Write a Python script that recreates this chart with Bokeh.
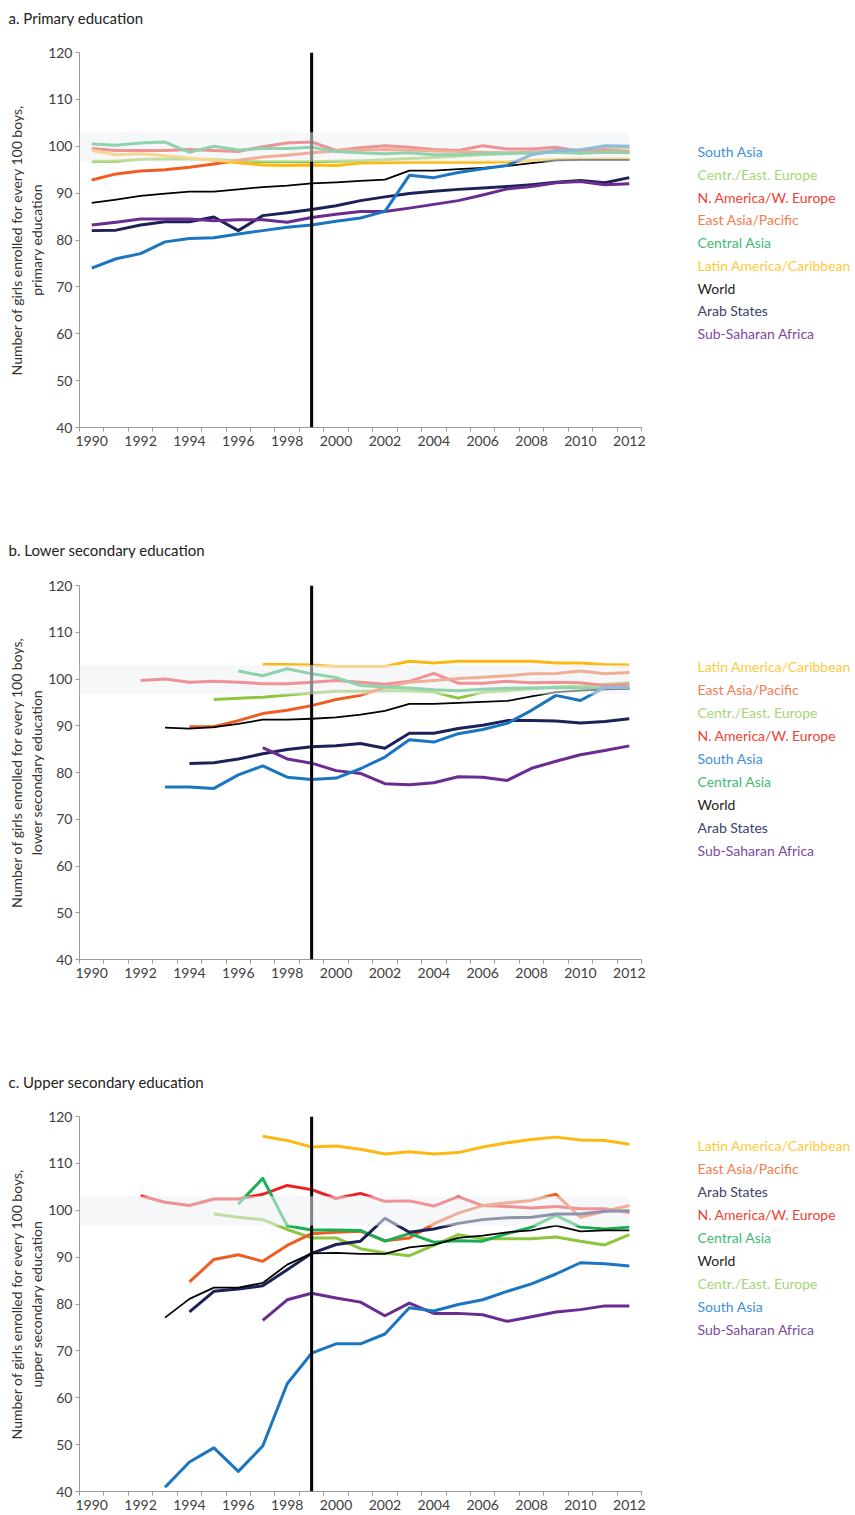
from bokeh.plotting import figure
from bokeh.models import FixedTicker, Span, BoxAnnotation, Range1d, ColumnDataSource
from bokeh.layouts import column, row
from bokeh.core.properties import value
from bokeh.embed import file_html
from bokeh.resources import INLINE

N = None
years = list(range(1990, 2013))
x_tick_years = list(range(1990, 2013, 2))
y_ticks = list(range(40, 121, 10))
parity_low, parity_high = 96.7, 103.0
reference_year = 1999

regions = ["South Asia", "Centr./East. Europe", "N. America/W. Europe", "East Asia/Pacific",
           "Central Asia", "Latin America/Caribbean", "World", "Arab States", "Sub-Saharan Africa"]

# a. Primary education (1990-2012)
pri_south_asia = [74.0, 76.0, 77.1, 79.6, 80.3, 80.5, 81.3, 82.0, 82.7, 83.2, 84.0, 84.7, 86.1, 93.8, 93.3, 94.4, 95.2, 95.9, 98.2, 99.1, 99.2, 100.1, 100.0]
pri_centr_east_europe = [96.8, 96.8, 97.2, 97.3, 97.3, 97.2, 96.9, 96.7, 96.7, 96.7, 96.8, 96.9, 97.1, 97.4, 97.6, 97.9, 98.2, 98.4, 98.8, 99.1, 99.3, 99.7, 99.6]
pri_n_america = [99.5, 99.1, 99.1, 99.1, 99.3, 99.1, 98.9, 99.9, 100.7, 100.9, 99.1, 99.7, 100.1, 99.8, 99.3, 99.1, 100.1, 99.4, 99.4, 99.8, 98.9, 99.2, 98.9]
pri_east_asia = [92.8, 94.1, 94.7, 95.0, 95.5, 96.2, 97.0, 97.7, 98.1, 98.6, 99.0, 99.2, 99.3, 99.2, 99.0, 98.9, 98.7, 98.6, 98.7, 98.8, 98.6, 98.9, 98.8]
pri_central_asia = [100.5, 100.2, 100.7, 100.9, 98.7, 100.0, 99.2, 99.5, 99.5, 99.8, 98.9, 98.6, 98.4, 98.6, 98.2, 98.2, 98.4, 98.5, 98.5, 98.7, 98.5, 98.7, 98.6]
pri_latin_america = [99.1, 98.2, 98.4, 98.0, 97.5, 97.0, 96.5, 96.0, 95.9, 96.0, 95.9, 96.4, 96.5, 96.6, 96.6, 96.6, 96.6, 96.7, 97.0, 97.2, 97.3, 97.3, 97.3]
pri_world = [87.9, 88.6, 89.4, 89.9, 90.3, 90.3, 90.8, 91.3, 91.6, 92.1, 92.3, 92.6, 92.9, 94.8, 94.8, 95.1, 95.4, 95.8, 96.4, 97.0, 97.1, 97.1, 97.1]
pri_arab_states = [82.0, 82.1, 83.2, 83.9, 83.9, 84.9, 82.0, 85.2, 85.8, 86.5, 87.3, 88.4, 89.2, 89.9, 90.4, 90.8, 91.1, 91.4, 91.8, 92.3, 92.7, 92.2, 93.3]
pri_ssa = [83.2, 83.8, 84.5, 84.5, 84.5, 84.1, 84.3, 84.3, 83.8, 84.8, 85.5, 86.1, 86.1, 86.8, 87.6, 88.4, 89.6, 90.9, 91.4, 92.2, 92.5, 91.8, 92.0]

# b. Lower secondary education
low_south_asia = [N, N, N, 76.9, 76.9, 76.6, 79.5, 81.4, 79.0, 78.5, 78.8, 80.8, 83.3, 87.0, 86.5, 88.3, 89.2, 90.5, 93.3, 96.5, 95.4, 98.2, 98.2]
low_centr_east_europe = [N, N, N, N, N, 95.6, 95.9, 96.1, 96.6, 97.0, 97.4, 97.4, 97.5, 97.5, 97.2, 95.9, 97.2, 97.5, 97.9, 98.3, 98.5, 98.9, 99.2]
low_n_america = [N, N, 99.7, 100.0, 99.3, 99.5, 99.3, 99.0, 99.0, 99.3, 99.7, 99.3, 98.9, 99.5, 101.2, 99.1, 99.1, 99.5, 99.2, 99.3, 99.2, 98.6, 98.9]
low_east_asia = [N, N, N, N, 89.8, 89.8, 91.1, 92.6, 93.3, 94.3, 95.6, 96.5, 98.2, 99.3, 99.7, 100.1, 100.4, 100.7, 101.1, 101.2, 101.7, 101.1, 101.4]
low_central_asia = [N, N, N, N, N, N, 101.7, 100.7, 102.2, 101.1, 100.3, 98.6, 98.3, 98.1, 97.7, 97.5, 97.8, 98.0, 98.1, 98.2, 98.1, 98.1, 98.1]
low_latin_america = [N, N, N, N, N, N, N, 103.1, 103.1, 103.0, 102.7, 102.7, 102.7, 103.8, 103.4, 103.8, 103.8, 103.8, 103.8, 103.4, 103.4, 103.1, 103.0]
low_world = [N, N, N, 89.6, 89.4, 89.7, 90.4, 91.3, 91.3, 91.5, 91.8, 92.4, 93.2, 94.7, 94.7, 94.9, 95.1, 95.3, 96.3, 97.2, 97.5, 97.8, 97.9]
low_arab_states = [N, N, N, N, 81.9, 82.1, 82.9, 84.0, 84.9, 85.5, 85.7, 86.2, 85.2, 88.4, 88.4, 89.4, 90.1, 91.1, 91.1, 91.0, 90.6, 90.9, 91.5]
low_ssa = [N, N, N, N, N, N, N, 85.3, 82.9, 82.0, 80.4, 79.8, 77.6, 77.4, 77.8, 79.1, 79.0, 78.3, 80.9, 82.4, 83.8, 84.7, 85.7]

# c. Upper secondary education
upp_south_asia = [N, N, N, 40.9, 46.3, 49.3, 44.3, 49.7, 63.0, 69.5, 71.5, 71.5, 73.6, 79.2, 78.5, 79.9, 80.9, 82.7, 84.3, 86.4, 88.8, 88.6, 88.1]
upp_centr_east_europe = [N, N, N, N, N, 99.2, 98.5, 98.0, 95.9, 94.1, 94.1, 91.8, 90.9, 90.3, 92.5, 94.8, 93.9, 93.9, 93.9, 94.3, 93.4, 92.6, 94.8]
upp_n_america = [N, N, 103.1, 101.7, 101.0, 102.4, 102.4, 103.4, 105.3, 104.4, 102.5, 103.6, 101.9, 102.0, 100.9, 102.9, 101.0, 100.8, 100.5, 100.8, 100.3, 100.3, 99.5]
upp_east_asia = [N, N, N, N, 84.7, 89.5, 90.5, 89.1, 92.5, 95.0, 95.3, 95.5, 93.5, 94.1, 97.1, 99.4, 101.0, 101.6, 102.1, 103.4, 98.5, 99.8, 101.0]
upp_central_asia = [N, N, N, N, N, N, 101.3, 106.8, 96.7, 95.8, 95.8, 95.7, 93.4, 95.0, 93.2, 93.5, 93.4, 95.0, 96.4, 98.9, 96.4, 96.0, 96.4]
upp_latin_america = [N, N, N, N, N, N, N, 115.8, 114.9, 113.5, 113.7, 113.0, 112.0, 112.5, 112.0, 112.3, 113.5, 114.4, 115.1, 115.6, 115.0, 114.9, 114.1]
upp_world = [N, N, N, 77.1, 81.1, 83.5, 83.5, 84.5, 88.4, 90.8, 90.9, 90.7, 90.7, 92.1, 92.6, 94.1, 94.6, 95.3, 95.7, 96.7, 95.5, 95.7, 95.7]
upp_arab_states = [N, N, N, N, 78.3, 82.7, 83.2, 83.9, 87.3, 90.8, 92.7, 93.4, 98.3, 95.3, 96.0, 97.2, 98.0, 98.4, 98.5, 99.2, 99.2, 99.8, 99.9]
upp_ssa = [N, N, N, N, N, N, N, 76.5, 80.9, 82.3, 81.3, 80.4, 77.5, 80.2, 78.0, 78.0, 77.7, 76.3, 77.3, 78.3, 78.8, 79.6, 79.6]

legend_a = ["South Asia", "Centr./East. Europe", "N. America/W. Europe", "East Asia/Pacific", "Central Asia",
            "Latin America/Caribbean", "World", "Arab States", "Sub-Saharan Africa"]
legend_b = ["Latin America/Caribbean", "East Asia/Pacific", "Centr./East. Europe", "N. America/W. Europe",
            "South Asia", "Central Asia", "World", "Arab States", "Sub-Saharan Africa"]
legend_c = ["Latin America/Caribbean", "East Asia/Pacific", "Arab States", "N. America/W. Europe",
            "Central Asia", "World", "Centr./East. Europe", "South Asia", "Sub-Saharan Africa"]

line_colors = {
    "South Asia": "#1b75c0",
    "Centr./East. Europe": "#8cc63e",
    "N. America/W. Europe": "#ed2024",
    "East Asia/Pacific": "#ef5d22",
    "Central Asia": "#1aaf54",
    "Latin America/Caribbean": "#fdb913",
    "World": "#000000",
    "Arab States": "#1c2257",
    "Sub-Saharan Africa": "#6a2c91",
}
text_colors = {
    "South Asia": "#3d8fd5",
    "Centr./East. Europe": "#a6d676",
    "N. America/W. Europe": "#ee4235",
    "East Asia/Pacific": "#f27d4f",
    "Central Asia": "#3fba78",
    "Latin America/Caribbean": "#ffc93c",
    "World": "#222222",
    "Arab States": "#3a416d",
    "Sub-Saharan Africa": "#7a4ba0",
}
draw_order = ["Centr./East. Europe", "N. America/W. Europe", "East Asia/Pacific", "Central Asia",
              "Latin America/Caribbean", "Arab States", "Sub-Saharan Africa", "World", "South Asia"]

FONT = "Lato"
LEFT = 79
FRAME_W = 562
RIGHT = 8
MAIN_W = LEFT + FRAME_W + RIGHT
LEG_W = 855 - MAIN_W
LEG_TEXT_X = 48


def nan(vals):
    return [float("nan") if v is None else v for v in vals]


def bare(fig):
    fig.outline_line_color = None
    fig.xgrid.visible = False
    fig.ygrid.visible = False
    return fig


def title_fig(text, height):
    t = bare(figure(frame_width=MAIN_W + LEG_W, frame_height=height, output_backend="svg",
                    toolbar_location=None, x_range=Range1d(0, MAIN_W + LEG_W), y_range=Range1d(0, height),
                    x_axis_location=None, y_axis_location=None,
                    min_border_left=0, min_border_right=0, min_border_top=0, min_border_bottom=0))
    t.text(x=[8], y=[9], text=[text], text_font=value(FONT), text_font_size="15px",
           text_color="#222222", text_baseline="middle", text_align="left")
    return t


def make_panel(ylabel, series, legend_order, top_border, frame_h, bottom_border,
               legend_first_px, legend_step_px):
    p = bare(figure(frame_width=FRAME_W, frame_height=frame_h, output_backend="svg", toolbar_location=None,
                    x_range=Range1d(1989.5, 2012.5), y_range=Range1d(40, 120),
                    min_border_left=LEFT, min_border_right=RIGHT, min_border_top=top_border,
                    min_border_bottom=bottom_border))

    for name in draw_order:
        w = 1.8 if name == "World" else 3
        p.line(years, nan(series[name]), line_color=line_colors[name], line_width=w,
               line_join="round")

    p.add_layout(Span(location=reference_year, dimension="height", line_color="black", line_width=3))
    p.add_layout(BoxAnnotation(left=1989.5, right=2012, bottom=parity_low, top=parity_high,
                               fill_color="#eff1f4", fill_alpha=0.55, line_color=None, level="overlay"))

    xa = p.xaxis[0]
    xa.ticker = FixedTicker(ticks=x_tick_years, minor_ticks=[y - 0.5 for y in years] + [2012.5])
    xa.major_tick_out = 0
    xa.major_tick_in = 0
    xa.minor_tick_out = 4
    xa.minor_tick_in = 0
    xa.minor_tick_line_color = "#9a9a9a"
    xa.axis_line_color = "#9a9a9a"
    xa.major_label_standoff = 4
    xa.major_label_text_font = FONT
    xa.major_label_text_font_size = "14px"
    xa.major_label_text_color = "#404040"

    ya = p.yaxis[0]
    ya.ticker = FixedTicker(ticks=y_ticks)
    ya.major_tick_out = 4
    ya.major_tick_in = 0
    ya.minor_tick_out = 0
    ya.minor_tick_in = 0
    ya.major_tick_line_color = "#9a9a9a"
    ya.axis_line_color = "#9a9a9a"
    ya.major_label_standoff = 3
    ya.major_label_text_font = FONT
    ya.major_label_text_font_size = "14px"
    ya.major_label_text_color = "#404040"
    ya.axis_label = ylabel
    ya.axis_label_text_font = FONT
    ya.axis_label_text_font_size = "14px"
    ya.axis_label_text_font_style = "normal"
    ya.axis_label_text_color = "#333333"
    ya.axis_label_standoff = 0

    # legend panel sharing the same vertical scale
    lg = bare(figure(frame_width=LEG_W, frame_height=frame_h, output_backend="svg", toolbar_location=None,
                     x_range=Range1d(0, LEG_W), y_range=Range1d(40, 120),
                     x_axis_location=None, y_axis_location=None,
                     min_border_left=0, min_border_right=0, min_border_top=top_border,
                     min_border_bottom=bottom_border))
    px_per_unit = frame_h / 80.0
    src = ColumnDataSource(dict(
        x=[LEG_TEXT_X] * len(legend_order),
        y=[120 - (legend_first_px + i * legend_step_px) / px_per_unit for i in range(len(legend_order))],
        text=legend_order,
        color=[text_colors[n] for n in legend_order],
    ))
    lg.text(x="x", y="y", text="text", text_color="color", source=src, text_font=value(FONT),
            text_font_size="14px", text_baseline="middle", text_align="left")
    return row(p, lg, spacing=0)


ylab = "Number of girls enrolled for every 100 boys,\n"
panel_a = make_panel(ylab + "primary education",
                     dict(zip(regions, [pri_south_asia, pri_centr_east_europe, pri_n_america, pri_east_asia,
                                        pri_central_asia, pri_latin_america, pri_world, pri_arab_states, pri_ssa])),
                     legend_a, 26, 375, 113, 99, 22.75)
panel_b = make_panel(ylab + "lower secondary education",
                     dict(zip(regions, [low_south_asia, low_centr_east_europe, low_n_america, low_east_asia,
                                        low_central_asia, low_latin_america, low_world, low_arab_states, low_ssa])),
                     legend_b, 27, 374, 113, 81, 23)
panel_c = make_panel(ylab + "upper secondary education",
                     dict(zip(regions, [upp_south_asia, upp_centr_east_europe, upp_n_america, upp_east_asia,
                                        upp_central_asia, upp_latin_america, upp_world, upp_arab_states, upp_ssa])),
                     legend_c, 26, 375, 21, 29, 23)

layout = column(title_fig("a. Primary education", 26), panel_a,
                title_fig("b. Lower secondary education", 18), panel_b,
                title_fig("c. Upper secondary education", 18), panel_c, spacing=0)
open("out.html", "w").write(file_html(layout, INLINE))
